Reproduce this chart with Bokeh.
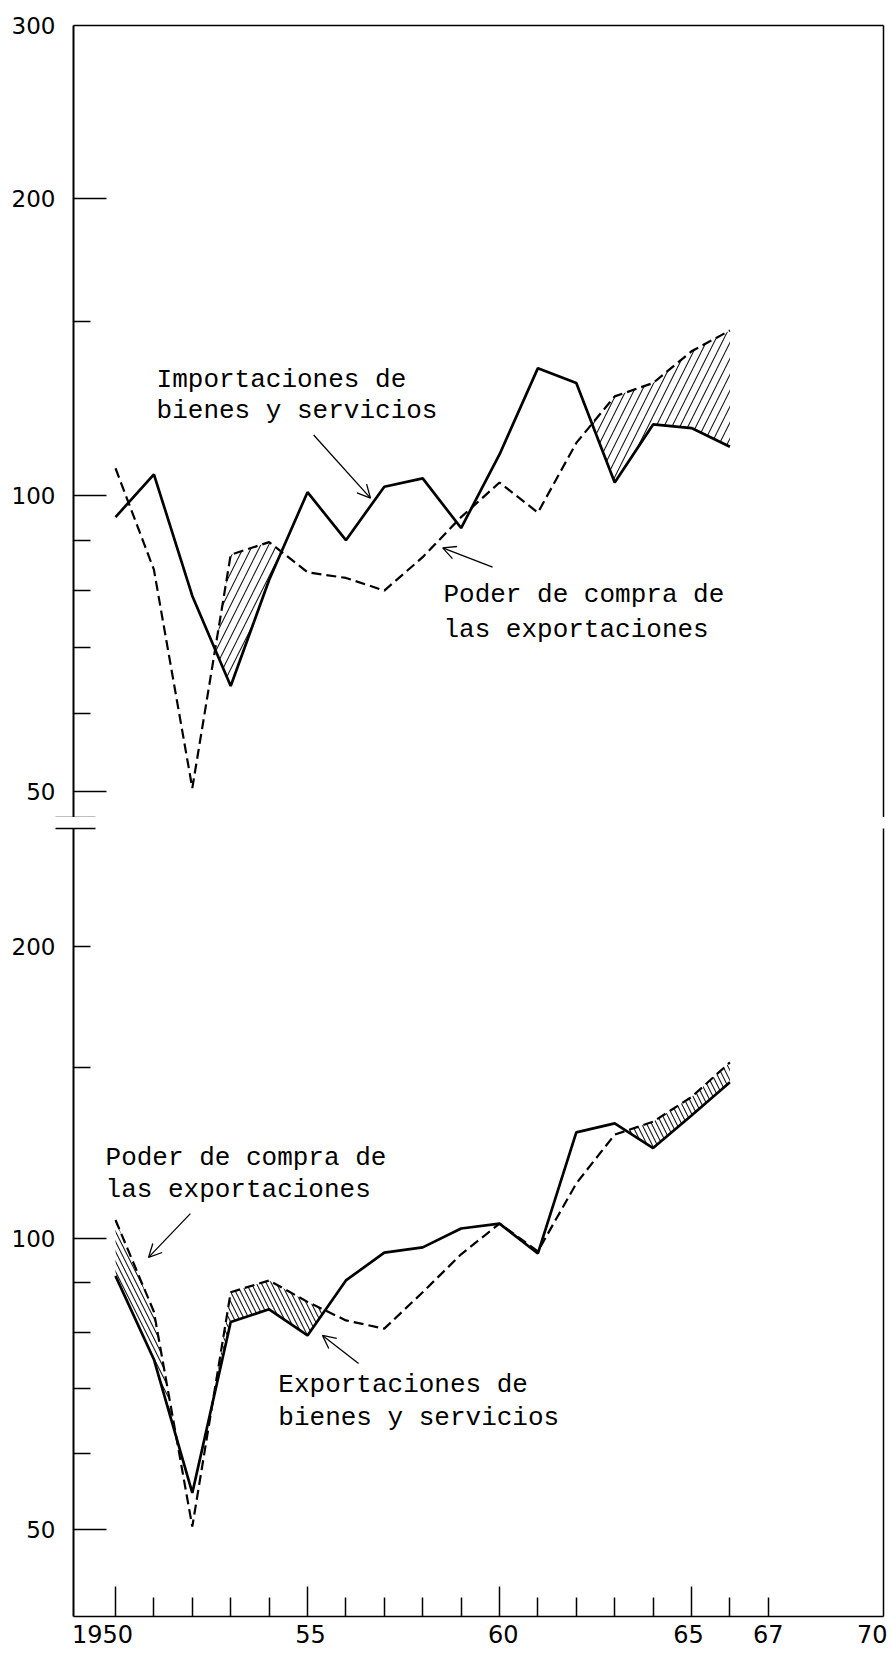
import numpy as np
from bokeh.plotting import figure
from bokeh.layouts import column
from bokeh.models import (FixedTicker, LinearAxis, Arrow, OpenHead, Label, Range1d,
                          CustomJSTickFormatter)
from bokeh.embed import file_html
from bokeh.resources import INLINE

# ---------------- data ----------------
years = list(range(1950, 1967))

# upper panel
importaciones = [95, 105, 79, 64, 82, 100.7, 90, 102, 104, 92.6, 110, 134.6, 130, 103, 118, 117, 112]
poder_compra_sup = [106.5, 84, 50.4, 87, 89.6, 83.5, 82.4, 80, 86.5, 95, 103, 96, 113, 126, 130, 140, 147]

# lower panel
exportaciones = [91.5, 75, 54.6, 82, 84.5, 79.4, 90.5, 96.7, 97.9, 102.4, 103.6, 96.5, 128.7, 131.5, 124, 134, 145]
poder_compra_inf = [104.5, 84, 50.4, 88, 90.5, 86, 82.3, 80.7, 88, 96.3, 103.6, 97, 114, 128, 132, 140, 152]

# x axis: tick marks and (typed, slightly off-centre) labels
x_long_ticks = [1950, 1955, 1960, 1965]
x_short_ticks = [1951, 1952, 1953, 1954, 1956, 1957, 1958, 1959, 1961, 1962, 1963, 1964, 1966, 1967]
x_label_pos = [1949.66, 1955.08, 1960.1, 1964.92, 1967.0, 1969.71]
x_labels = ["1950", "55", "60", "65", "67", "70"]

# y axis: labelled values, long and short tick marks
y_labels_sup = [50, 100, 200, 300]
y_long_sup = [50, 100, 200]
y_short_sup = [60, 70, 80, 90, 150]
y_labels_inf = [50, 100, 200]
y_long_inf = [50, 100]
y_short_inf = [60, 70, 80, 90, 150, 200]

# hatched year spans (dashed above solid)
hatch_sup = [(1952, 1955), (1962, 1966)]
hatch_inf = [(1950, 1952), (1952, 1956), (1963, 1966)]

TICK_FONT = "DejaVu Sans"
NOTE_FONT = "Liberation Mono"

X_RANGE = (1948.906, 1970.0)


def band(x, lo, hi, x0, x1):
    """polygon where hi > lo between x0 and x1 (crossings in log space)"""
    pts = []
    for i in range(len(x) - 1):
        xa, xb = x[i], x[i + 1]
        if xb <= x0 or xa >= x1:
            continue
        la, lb = np.log(lo[i]), np.log(lo[i + 1])
        ha, hb = np.log(hi[i]), np.log(hi[i + 1])
        da, db = ha - la, hb - lb
        seg = []
        if da >= 0:
            seg.append((xa, la, ha))
        if da * db < 0:
            t = da / (da - db)
            xc = xa + t * (xb - xa)
            lc = la + t * (lb - la)
            seg.append((xc, lc, lc))
        if db >= 0:
            seg.append((xb, lb, hb))
        for s in seg:
            if not pts or abs(pts[-1][0] - s[0]) > 1e-9:
                pts.append(s)
    xs = [p[0] for p in pts] + [p[0] for p in pts[::-1]]
    ys = [float(np.exp(p[2])) for p in pts] + [float(np.exp(p[1])) for p in pts[::-1]]
    return xs, ys


def border_axis(p, side, width=1.5):
    ax = LinearAxis(ticker=FixedTicker(ticks=[]), major_tick_out=0, major_tick_in=0,
                    minor_tick_out=0, minor_tick_in=0, major_label_standoff=0,
                    axis_line_width=width, axis_line_color="black")
    p.add_layout(ax, side)


def style_y(p, labels, longs, shorts, break_at):
    # inner axis: line + tick marks, no labels
    ax = p.yaxis[0]
    ax.ticker = FixedTicker(ticks=longs, minor_ticks=shorts)
    ax.major_label_overrides = {m: "" for m in longs}
    ax.major_label_text_font_size = "0px"
    ax.major_label_standoff = 0
    ax.major_tick_in = 33
    ax.major_tick_out = 0
    ax.minor_tick_in = 17
    ax.minor_tick_out = 0
    ax.major_tick_line_width = 1.5
    ax.minor_tick_line_width = 1.5
    ax.axis_line_width = 2
    # outer axis: labels + axis-break mark
    lab = LinearAxis(ticker=FixedTicker(ticks=labels, minor_ticks=[break_at]),
                     axis_line_color=None, major_tick_line_color=None,
                     major_tick_line_alpha=0, major_tick_line_width=0,
                     minor_tick_in=22, minor_tick_out=18, minor_tick_line_width=1.5,
                     minor_tick_line_color="black", major_tick_out=0, major_tick_in=0,
                     major_label_standoff=0, major_label_text_font=TICK_FONT,
                     major_label_text_font_size="23px", major_label_text_color="black")
    lab.major_label_overrides = {m: str(m) for m in labels}
    p.add_layout(lab, "left")


def note(p, x, y, text):
    p.add_layout(Label(x=x, y=y, text=text, text_font=NOTE_FONT, text_font_size="26px",
                       text_color="black", text_baseline="alphabetic", text_align="left"))


def arrow(p, x0, y0, x1, y1):
    p.add_layout(Arrow(end=OpenHead(size=13, line_width=1.3, line_color="black"),
                       x_start=x0, y_start=y0, x_end=x1, y_end=y1,
                       line_width=1.3, line_color="black"))


def draw_series(p, solid, dashed, spans, pattern, scale):
    xs, ys = [], []
    for a, b in spans:
        bx, by = band(years, solid, dashed, a, b)
        xs.append(bx)
        ys.append(by)
    p.patches(xs, ys, fill_color=None, line_color=None, hatch_pattern=pattern,
              hatch_color="black", hatch_scale=scale, hatch_weight=1.1, hatch_alpha=0.9)
    p.line(years, dashed, line_width=2.2, line_color="black", line_dash="10 5")
    p.line(years, solid, line_width=2.7, line_color="black")


# ---------------- upper panel ----------------
top_lo, top_hi = 47.05, 300.0
top = figure(width=889, height=817, x_range=Range1d(*X_RANGE), y_range=Range1d(top_lo, top_hi),
             y_axis_type="log", x_axis_location=None, output_backend="svg", toolbar_location=None,
             min_border_left=73, min_border_right=6, min_border_top=25, min_border_bottom=0,
             outline_line_color=None, background_fill_color="white", border_fill_color="white")
top.grid.grid_line_color = None
style_y(top, y_labels_sup, y_long_sup, y_short_sup, 47.1)
border_axis(top, "above")
border_axis(top, "right")

draw_series(top, importaciones, poder_compra_sup, hatch_sup, "/", 16)

note(top, 1951.07, 130.9, "Importaciones de")
note(top, 1951.07, 121.7, "bienes y servicios")
arrow(top, 1955.16, 115.1, 1956.64, 99.3)
note(top, 1958.54, 79.1, "Poder de compra de")
note(top, 1958.54, 72.9, "las exportaciones")
arrow(top, 1959.82, 84.5, 1958.52, 88.4)

# ---------------- lower panel ----------------
bot_lo, bot_hi = 40.70, 265.1
bot = figure(width=889, height=841, x_range=Range1d(*X_RANGE), y_range=Range1d(bot_lo, bot_hi),
             y_axis_type="log", output_backend="svg", toolbar_location=None,
             min_border_left=73, min_border_right=6, min_border_top=11, min_border_bottom=42,
             outline_line_color=None, background_fill_color="white", border_fill_color="white")
bot.grid.grid_line_color = None
style_y(bot, y_labels_inf, y_long_inf, y_short_inf, 265.0)
border_axis(bot, "right")

xa = bot.xaxis[0]
xa.ticker = FixedTicker(ticks=x_long_ticks, minor_ticks=x_short_ticks)
xa.major_label_overrides = {m: "" for m in x_long_ticks}
xa.major_label_text_font_size = "0px"
xa.major_label_standoff = 0
xa.major_tick_in = 30
xa.major_tick_out = 0
xa.minor_tick_in = 19
xa.minor_tick_out = 0
xa.major_tick_line_width = 1.5
xa.minor_tick_line_width = 1.5
xa.axis_line_width = 1.5

xlab = LinearAxis(ticker=FixedTicker(ticks=x_label_pos, minor_ticks=[]),
                  axis_line_color=None, major_tick_line_color=None, minor_tick_line_color=None,
                  major_tick_line_alpha=0, major_tick_line_width=0,
                  major_tick_in=0, major_tick_out=0, major_label_standoff=8,
                  major_label_text_font=TICK_FONT, major_label_text_font_size="24px",
                  major_label_text_color="black",
                  formatter=CustomJSTickFormatter(
                      args=dict(pos=x_label_pos, lab=x_labels),
                      code="const i = pos.findIndex(p => Math.abs(p - tick) < 1e-6);"
                           " return i >= 0 ? lab[i] : '';"))
bot.add_layout(xlab, "below")

draw_series(bot, exportaciones, poder_compra_inf, hatch_inf, "\\", 10)

note(bot, 1949.74, 121.2, "Poder de compra de")
note(bot, 1949.74, 112.1, "las exportaciones")
arrow(bot, 1951.95, 106.1, 1950.86, 95.6)
note(bot, 1954.24, 70.5, "Exportaciones de")
note(bot, 1954.24, 65.2, "bienes y servicios")
arrow(bot, 1956.33, 74.3, 1955.39, 79.4)

layout = column(top, bot, spacing=0)
open("out.html", "w").write(file_html(layout, INLINE))
